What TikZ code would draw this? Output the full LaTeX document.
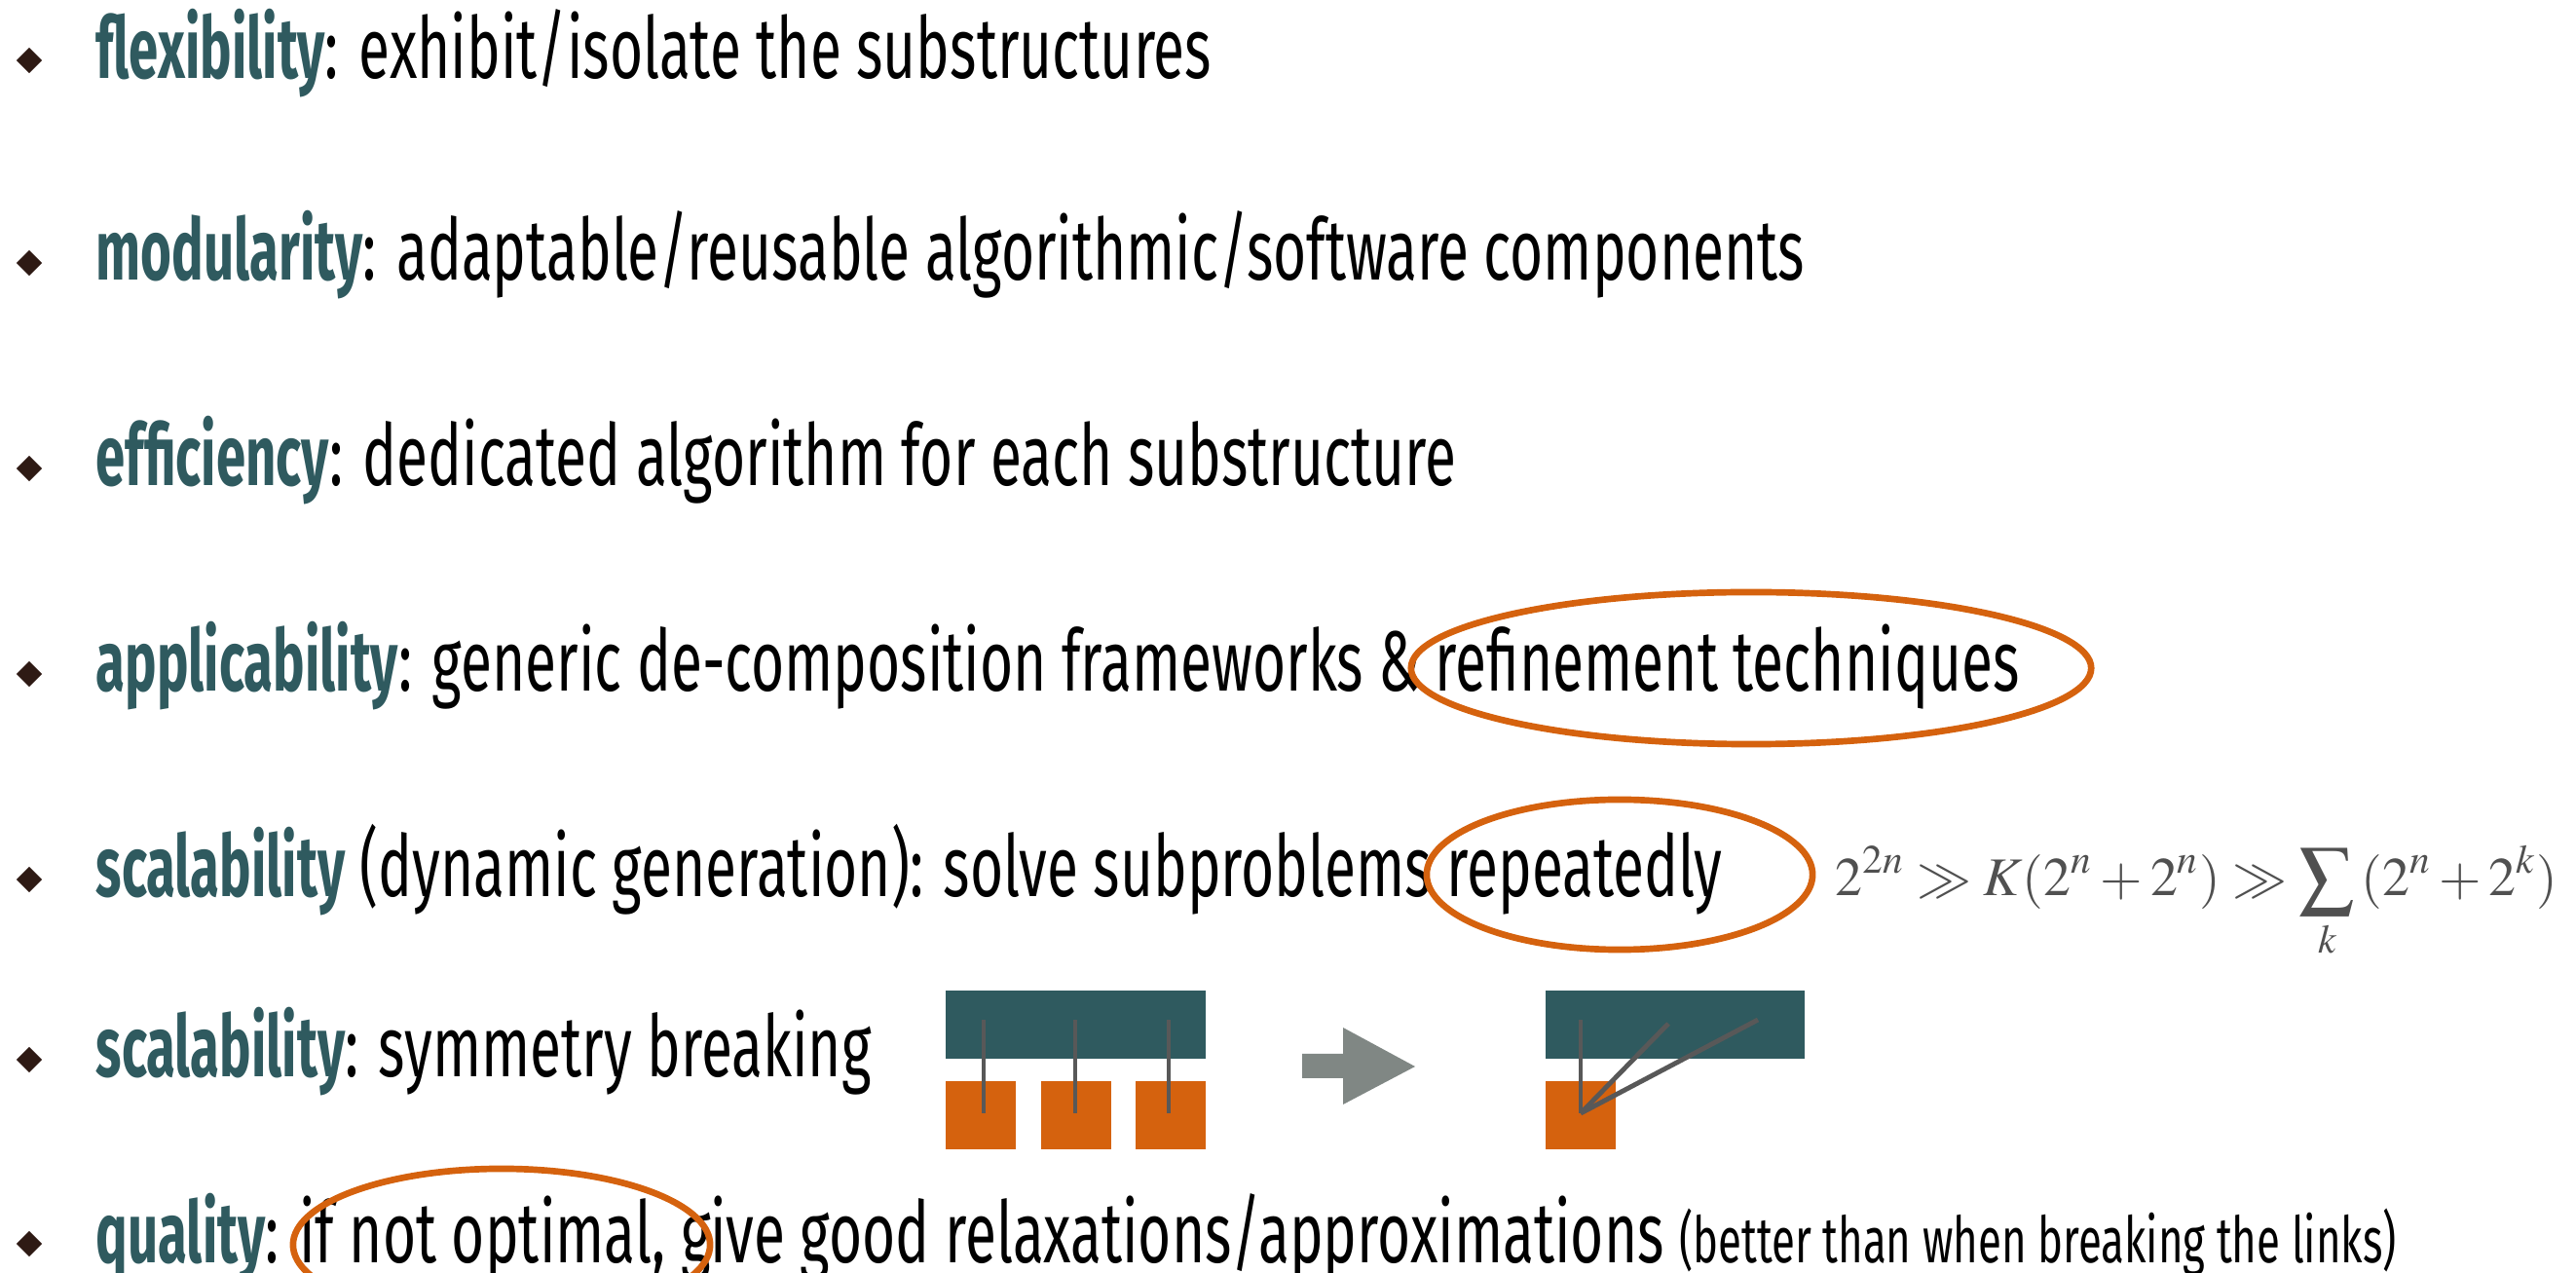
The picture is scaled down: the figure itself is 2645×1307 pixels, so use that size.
\documentclass[tikz,border=0pt]{standalone}
\usepackage{mathptmx}
\usepackage{fontspec}
\setmainfont{Fira Sans}[
  UprightFeatures={FakeStretch=0.666},
  BoldFeatures={FakeStretch=0.62}]
\usetikzlibrary{shapes.geometric}

\definecolor{kteal}{HTML}{2F5A5F}
\definecolor{korange}{HTML}{D5620E}
\definecolor{klink}{HTML}{585858}
\definecolor{karrow}{HTML}{808784}
\definecolor{kbullet}{HTML}{2E1A14}
\definecolor{kformula}{HTML}{505050}

\newcommand\kw[1]{{\bfseries\color{kteal}#1}}

\tikzset{
  item/.style={anchor=base west, inner sep=0pt, font=\fontsize{25}{30}\selectfont},
  bul/.style={diamond, fill=kbullet, inner sep=0pt, minimum width=0.27cm, minimum height=0.27cm},
  ring/.style={draw=korange, line width=1.9pt},
  slab/.style={fill=kteal, draw=none, inner sep=0pt, anchor=north west},
  cell/.style={fill=korange, draw=none, inner sep=0pt, anchor=north west},
  link/.style={draw=klink, line width=1.4pt},
  formula/.style={anchor=base west, inner sep=0pt, text=kformula, font=\fontsize{15.9}{19}\selectfont},
}

\begin{document}
\begin{tikzpicture}[x=0.01cm, y=-0.01cm]
\useasboundingbox (0,0) rectangle (2645,1307);
\clip (0,0) rectangle (2645,1307);

% bullets
\foreach \i/\y in {1/62, 2/270, 3/481, 4/692, 5/903, 6/1088, 7/1277}
  \node[bul] (b\i) at (30,\y) {};

% items
\node[item] (t1) at (98,81)   {\kw{flexibility}: exhibit/isolate the substructures};
\node[item] (t2) at (98,288)  {\kw{modularity}: adaptable/reusable algorithmic/software components};
\node[item] (t3) at (98,499)  {\kw{efficiency}: dedicated algorithm for each substructure};
\node[item] (t4) at (98,710)  {\kw{applicability}: generic de-composition frameworks \& refinement techniques};
\node[item] (t5) at (98,921)  {\kw{scalability} (dynamic generation): solve subproblems repeatedly};
\node[item] (t6) at (98,1106) {\kw{scalability}: symmetry breaking};
\node[item] (t7) at (98,1296) {\kw{quality}: if not optimal, give good relaxations/approximations {\fontsize{18.7}{22}\selectfont(better than when breaking the links)}};

% highlight rings
\draw[ring] (1798,686) ellipse [x radius=3.49cm, y radius=0.78cm];
\draw[ring] (1663,898) ellipse [x radius=1.98cm, y radius=0.77cm];
\draw[ring] (515,1278) ellipse [x radius=2.14cm, y radius=0.78cm];

% complexity comparison
\node[formula] (f) at (1884,920) {$\displaystyle 2^{2n} \gg K(2^n+2^n) \gg \sum_k\, (2^n+2^k)$};

% symmetric model: one master block, three linked copies
\node[slab, minimum width=2.67cm, minimum height=0.70cm] (m1) at (970,1016) {};
\node[cell, minimum width=0.72cm, minimum height=0.70cm] (c1) at (970,1109) {};
\node[cell, minimum width=0.72cm, minimum height=0.70cm] (c2) at (1068,1109) {};
\node[cell, minimum width=0.72cm, minimum height=0.70cm] (c3) at (1165,1109) {};
\coordinate (u1) at (1010,1047); \coordinate (d1) at (1010,1143);
\coordinate (u2) at (1104,1047); \coordinate (d2) at (1104,1143);
\coordinate (u3) at (1200,1047); \coordinate (d3) at (1200,1143);
\draw[link] (u1) -- (d1);
\draw[link] (u2) -- (d2);
\draw[link] (u3) -- (d3);

% transformation arrow
\fill[karrow] (1337,1082) -- (1379,1082) -- (1379,1055) -- (1453,1095)
  -- (1379,1134) -- (1379,1107) -- (1337,1107) -- cycle;

% symmetry broken: a single copy linked three times
\node[slab, minimum width=2.66cm, minimum height=0.70cm] (m2) at (1586,1016) {};
\node[cell, minimum width=0.72cm, minimum height=0.70cm] (c4) at (1586,1109) {};
\coordinate (r0) at (1623,1143);
\coordinate (r1) at (1623,1047);
\coordinate (r2) at (1713,1051);
\coordinate (r3) at (1805,1047);
\draw[link] (r0) -- (r1);
\draw[link] (r0) -- (r2);
\draw[link] (r0) -- (r3);
\end{tikzpicture}
\end{document}
